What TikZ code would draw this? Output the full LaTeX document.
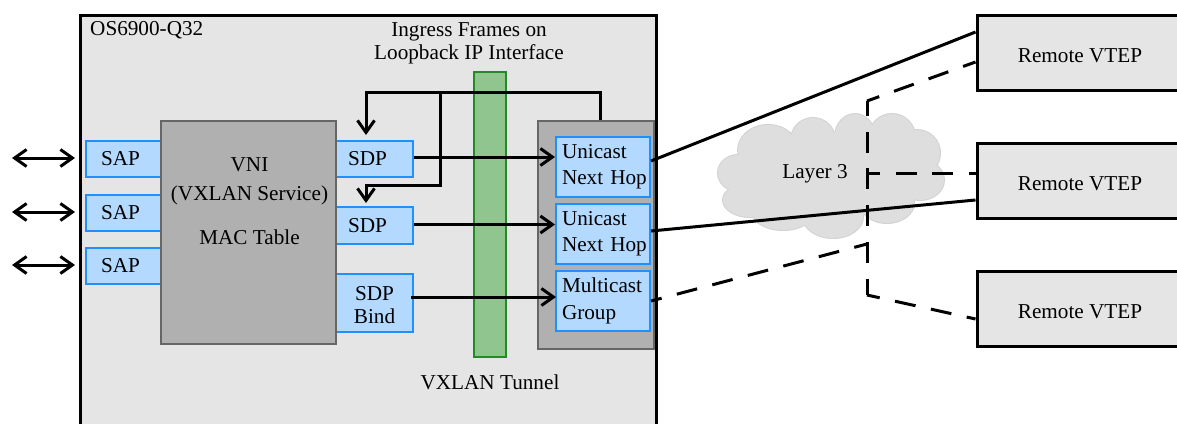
\documentclass[tikz,border=0pt]{standalone}
\usepackage{fontspec}
\setmainfont{Liberation Serif}
\usetikzlibrary{arrows.meta}
\definecolor{chassisgray}{HTML}{E5E5E5}
\definecolor{panelgray}{HTML}{B0B0B0}
\definecolor{edgegray}{HTML}{666666}
\definecolor{portblue}{HTML}{B3D9FF}
\definecolor{edgeblue}{HTML}{1E90FF}
\definecolor{tunnelgreen}{HTML}{90C590}
\definecolor{edgegreen}{HTML}{228B22}
\definecolor{cloudgray}{HTML}{DEDEDE}
\definecolor{cloudedge}{HTML}{D2D2D2}
\begin{document}
\begin{tikzpicture}
        [x=1pt,y=-1pt,
          font=\fontsize{21.2}{25}\selectfont,
          >={Straight Barb[length=12pt,width=17pt,line width=3pt]},
          chassis/.style={
            draw,
            line width=3pt,
            fill=chassisgray,
            inner sep=0pt},
          vtep/.style={
            chassis,
            minimum width=206pt,
            minimum height=75pt,
            text height=20pt,
            text depth=0pt},
          panel/.style={
            draw=edgegray,
            line width=2pt,
            fill=panelgray,
            inner sep=0pt},
          port/.style={
            draw=edgeblue,
            line width=2pt,
            fill=portblue,
            inner sep=0pt,
            minimum width=#1},
          sap/.style={
            port=75pt,
            minimum height=36pt,
            text width=45pt,
            align=left},
          sdp/.style={
            port=77pt,
            minimum height=36pt,
            text width=53pt,
            align=left},
          hop/.style={
            port=94pt,
            minimum height=60pt,
            text width=82pt,
            align=left},
          label/.style={
            inner sep=0pt,
            align=center},
          link/.style={
            line width=3pt},
          tunnel/.style={
            line width=3pt,
            dash pattern=on 21pt off 15.7pt,
            dash phase=#1}]
        \useasboundingbox (0,0) rectangle (1177,423);
        \clip (0,0) rectangle (1177,423);

        \node[chassis,minimum width=576pt,minimum height=435pt] (os) at (368,232.5) {};
        \node[label,anchor=west] (osname) at (90,30) {OS6900-Q32};
        \node[label] (ingress) at (469,43) {Ingress Frames on\\[-2pt]Loopback IP Interface};

        % left side ports
        \node[sap] (sapa) at (123.5,159) {SAP};
        \node[sap] (sapb) at (123.5,212.5) {SAP};
        \node[sap] (sapc) at (123.5,265.5) {SAP};
        \node[sdp] (sdpa) at (374.5,159) {SDP};
        \node[sdp,minimum height=37pt] (sdpb) at (374.5,225.5) {SDP};
        \node[port=77pt,minimum height=58pt,align=center] (bind) at (374.5,303) {\rule{0pt}{19pt}SDP\\[-2pt]Bind};

        \node[panel,minimum width=175pt,minimum height=223pt] (vni) at (248.5,232.5) {};
        \node[label] (vnitext) at (249.5,201) {VNI\\[4pt](VXLAN Service)\\[19pt]MAC Table};

        \node[draw=edgegreen,line width=2pt,fill=tunnelgreen,inner sep=0pt,
          minimum width=32pt,minimum height=285pt] (bar) at (490,214.5) {};
        \node[label] (vxlan) at (490,382) {VXLAN Tunnel};

        \node[panel,minimum width=116pt,minimum height=228pt] (group) at (596,235) {};
        \node[hop] (hopa) at (603,167) {Unicast\\[1pt]\mbox{Next Hop}};
        \node[hop] (hopb) at (603,234) {Unicast\\[1pt]\mbox{Next Hop}};
        \node[hop] (mcast) at (603,301) {Multicast\\[2pt]Group};

        % cloud lobes
        \foreach \cx/\cy/\rx/\ry in {738/173/20/18,768/150/30/25,813/140/22/22,855/137/20/23,
            892/137/23/23,917/153/23/23,920/180/24/20,750/200/27/17,783/213/30/17,
            833/217/30/21,887/203/27/20}
          \fill[cloudedge] (\cx,\cy) ellipse [x radius=\rx+1,y radius=\ry+1];
        \foreach \cx/\cy/\rx/\ry in {738/173/20/18,768/150/30/25,813/140/22/22,855/137/20/23,
            892/137/23/23,917/153/23/23,920/180/24/20,750/200/27/17,783/213/30/17,
            833/217/30/21,887/203/27/20,827/175/83/43}
          \fill[cloudgray] (\cx,\cy) ellipse [x radius=\rx,y radius=\ry];
        \node[label] (wanname) at (815,174) {Layer 3};

        \node[vtep] (vtepa) at (1080,52.5) {Remote VTEP};
        \node[vtep] (vtepb) at (1080,180.5) {Remote VTEP};
        \node[vtep] (vtepc) at (1080,308.5) {Remote VTEP};

        \coordinate (tapa) at (867,101);
        \coordinate (tapb) at (867,173.5);
        \coordinate (tapc) at (867,244);
        \coordinate (tapd) at (867,295);
        \coordinate (hosta) at (12,158);
        \coordinate (hostb) at (12,212);
        \coordinate (hostc) at (12,265);
        \coordinate (loopa) at (600,92);
        \coordinate (loopb) at (440,92);
        \coordinate (loopc) at (440,185);

        \draw[link,<->] (hosta) -- ([xshift=-3.5pt]hosta -| os.west);
        \draw[link,<->] (hostb) -- ([xshift=-3.5pt]hostb -| os.west);
        \draw[link,<->] (hostc) -- ([xshift=-3.5pt]hostc -| os.west);

        % frames going back in
        \draw[link,->] (group.north -| loopa) -- (loopa) -- ([xshift=-8.5pt]loopa -| sdpa) -- ([xshift=-8.5pt,yshift=5pt]sdpa.north);
        \draw[link,->] (loopb) -- (loopc) -- ([xshift=-8.5pt]loopc -| sdpb) -- ([xshift=-8.5pt,yshift=3pt]sdpb.north);

        \draw[link,->] ([yshift=2pt]sdpa.east) -- ([yshift=2pt]sdpa.east -| hopa.west);
        \draw[link,->] ([yshift=1pt]sdpb.east) -- ([yshift=1pt]sdpb.east -| hopb.west);
        \draw[link,->] ([xshift=-3pt,yshift=6pt]bind.east) -- ([xshift=1pt,yshift=6pt]bind.east -| mcast.west);

        % towards the remote ends
        \draw[link] ([yshift=6pt]hopa.east) -- ([yshift=20.5pt]vtepa.west);
        \draw[link] ([yshift=3pt]hopb.east) -- ([yshift=-19.5pt]vtepb.west);
        \draw[tunnel=10pt] (mcast.east) -- (tapc);
        \draw[tunnel=6pt] (tapa) -- (tapd);
        \draw[tunnel=8pt] (tapa) -- ([yshift=-9.5pt]vtepa.west);
        \draw[tunnel=8pt] (tapb) -- (tapb -| vtepb.west);
        \draw[tunnel=8pt] (tapd) -- ([yshift=-10.5pt]vtepc.west);
\end{tikzpicture}
\end{document}
